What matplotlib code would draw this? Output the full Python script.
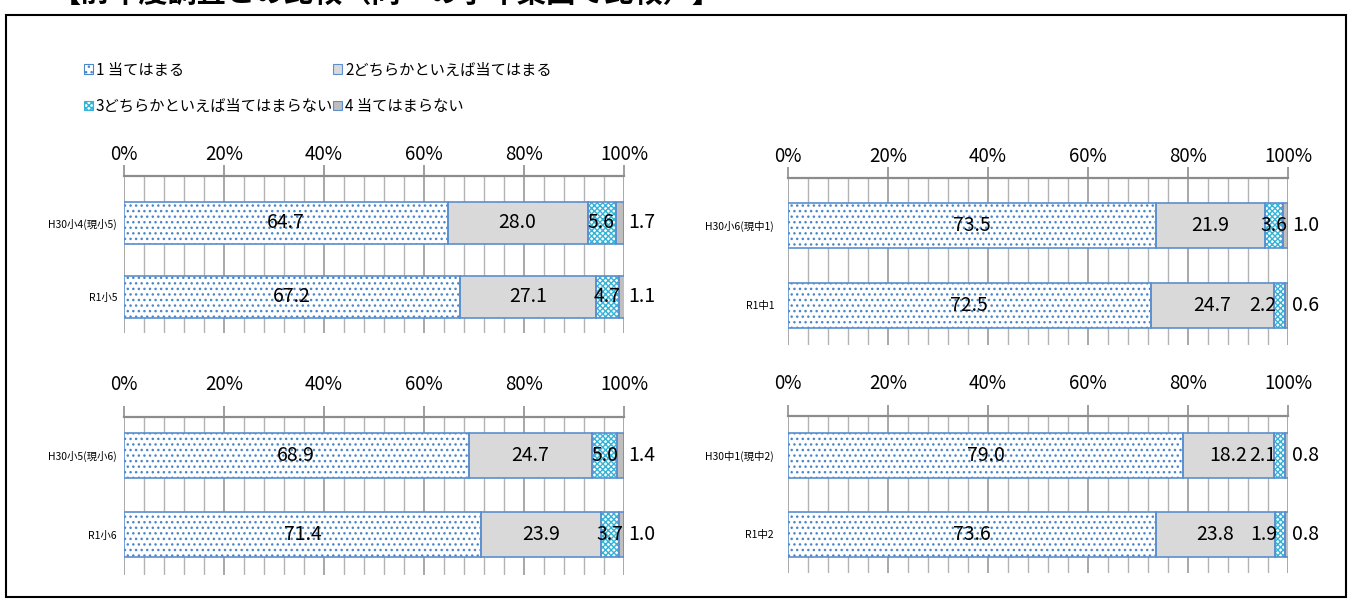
# -*- coding: utf-8 -*-
import numpy as np
import matplotlib.pyplot as plt
from matplotlib.patches import Patch, Rectangle

plt.rcParams['font.family'] = ['Noto Sans CJK JP', 'DejaVu Sans']
plt.rcParams['hatch.linewidth'] = 1.0

# data
legend_texts = ['1 当てはまる', '2どちらかといえば当てはまる',
                '3どちらかといえば当てはまらない', '4 当てはまらない']

cats_tl = ['H30小4(現小5)', 'R1小5']
vals_tl = [[64.7, 28.0, 5.6, 1.7], [67.2, 27.1, 4.7, 1.1]]

cats_tr = ['H30小6(現中1)', 'R1中1']
vals_tr = [[73.5, 21.9, 3.6, 1.0], [72.5, 24.7, 2.2, 0.6]]

cats_bl = ['H30小5(現小6)', 'R1小6']
vals_bl = [[68.9, 24.7, 5.0, 1.4], [71.4, 23.9, 3.7, 1.0]]

cats_br = ['H30中1(現中2)', 'R1中2']
vals_br = [[79.0, 18.2, 2.1, 0.8], [73.6, 23.8, 1.9, 0.8]]

tick_vals = [0, 20, 40, 60, 80, 100]

title = '【前年度調査との比較（同一の学年集団で比較）】'

# styles
face_cols = ['white', '#d9d9d9', 'white', '#bfbfbf']
hatch_cols = ['#4a86c8', '#d9d9d9', '#35b3d6', '#bfbfbf']
hatches = ['...', None, 'xxxxxx', None]
edge_col = '#5b8fd0'
grid_col = '#b3b3b3'

W, H = 1354, 607
fig = plt.figure(figsize=(W / 100, H / 100), dpi=100)


def box(x0, y0, x1, y1):
    return [x0 / W, 1 - y1 / H, (x1 - x0) / W, (y1 - y0) / H]


def panel(rect, ylim, cats, vals, pad, catpad):
    ax = fig.add_axes(rect)
    vals = np.array(vals)
    y = np.arange(len(cats))
    left = np.zeros(len(cats))
    for k in range(4):
        w = vals[:, k]
        ax.barh(y, w, left=left, height=0.57, color=face_cols[k],
                edgecolor=hatch_cols[k], hatch=hatches[k], lw=0, zorder=3)
        ax.barh(y, w, left=left, height=0.57, fill=False,
                edgecolor=edge_col, lw=1.2, zorder=4)
        for i in range(len(cats)):
            txt = '%.1f' % w[i]
            if k < 2:
                ax.text(left[i] + w[i] / 2, y[i], txt, ha='center', va='center',
                        fontsize=14, zorder=5)
            elif k == 2:
                if w[i] >= 3:
                    ax.text(left[i] + w[i] / 2, y[i], txt, ha='center',
                            va='center', fontsize=14, zorder=5)
                else:
                    ax.text(left[i] + 0.4, y[i], txt, ha='right',
                            va='center', fontsize=14, zorder=5)
            else:
                ax.annotate(txt, xy=(100, y[i]), xytext=(3, 0),
                            textcoords='offset points', ha='left',
                            va='center', fontsize=14, annotation_clip=False)
        left = left + w
    ax.set_xlim(0, 100)
    ax.set_ylim(*ylim)
    ax.set_xticks(tick_vals)
    ax.set_xticklabels(['%d%%' % v for v in tick_vals])
    ax.set_xticks(np.arange(0, 101, 4), minor=True)
    ax.xaxis.tick_top()
    ax.tick_params(axis='x', which='major', direction='out', length=8,
                   width=1.2, color='#8c8c8c', labelsize=13.5, pad=pad)
    ax.tick_params(axis='x', which='minor', length=0)
    ax.grid(axis='x', which='major', color='#999999', lw=1.2, zorder=1)
    ax.grid(axis='x', which='minor', color=grid_col, lw=1.0, zorder=1)
    ax.set_yticks(y)
    ax.set_yticklabels(cats, fontsize=7.5)
    ax.tick_params(axis='y', length=0, pad=catpad)
    for s in ['left', 'right', 'bottom']:
        ax.spines[s].set_visible(False)
    ax.spines['top'].set_color('#8c8c8c')
    ax.spines['top'].set_linewidth(1.6)
    return ax


panel(box(124, 176, 624, 333), (1.49, -0.635), cats_tl, vals_tl, 0, 5)
panel(box(788, 178, 1288, 345), (1.5, -0.6), cats_tr, vals_tr, 0, 10)
panel(box(124, 417, 624, 575), (1.51, -0.49), cats_bl, vals_bl, 8, 5)
panel(box(788, 416, 1288, 573), (1.49, -0.5), cats_br, vals_br, 8, 10)

# legend
handles = [Patch(facecolor=face_cols[k], edgecolor=hatch_cols[k] if hatches[k] else edge_col,
                 hatch=hatches[k], lw=0.8) for k in range(4)]
order = [0, 2, 1, 3]
fig.legend([handles[k] for k in order], [legend_texts[k] for k in order],
           loc='upper left', bbox_to_anchor=(76 / W, 1 - 54 / H), ncol=2,
           frameon=False, handlelength=0.6, handleheight=0.6,
           handletextpad=0.2, columnspacing=0.0, labelspacing=1.25,
           borderpad=0, prop={'size': 11})

# outer frame and cut-off title
fig.patches.append(Rectangle((6 / W, 1 - 597 / H), 1340 / W, 582 / H,
                             transform=fig.transFigure, fill=False,
                             edgecolor='black', lw=1.5))
fig.text(52 / W, 1 - 8 / H, title, ha='left', va='bottom', fontsize=21,
         fontweight='bold')

fig.savefig('out.png', dpi=100)
